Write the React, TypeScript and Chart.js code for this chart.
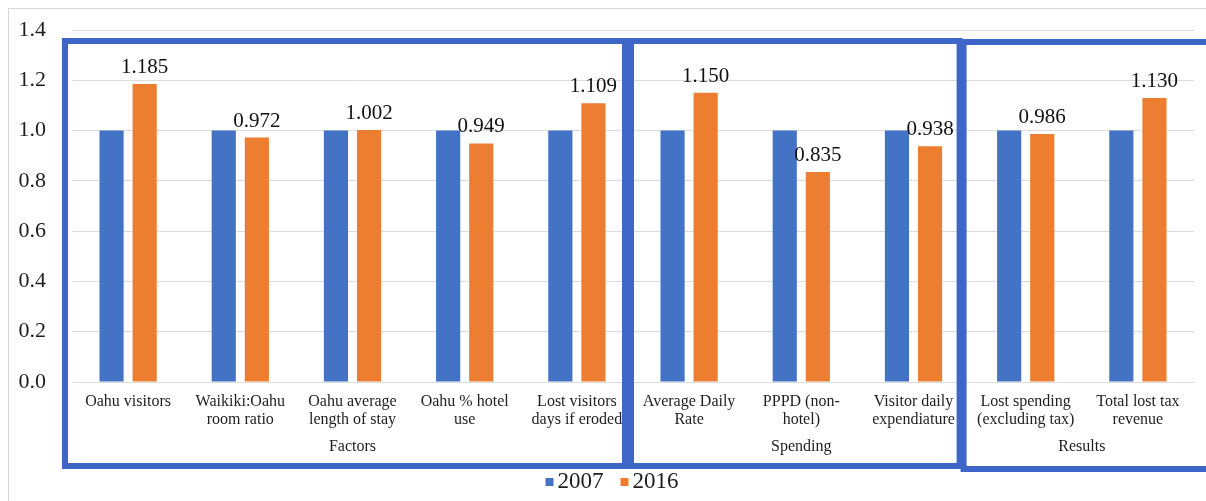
import React, { useEffect, useRef } from 'react';
import { Chart, registerables } from 'chart.js';

Chart.register(...registerables);

// Category labels (two-line where the axis wraps them)
const categories: string[][] = [
  ['Oahu visitors'],
  ['Waikiki:Oahu', 'room ratio'],
  ['Oahu average', 'length of stay'],
  ['Oahu % hotel', 'use'],
  ['Lost visitors', 'days if eroded'],
  ['Average Daily', 'Rate'],
  ['PPPD (non-', 'hotel)'],
  ['Visitor daily', 'expendiature'],
  ['Lost spending', '(excluding tax)'],
  ['Total lost tax', 'revenue'],
];

// Outer category groups and how many categories each spans
const groupNames: string[] = ['Factors', 'Spending', 'Results'];
const groupSizes: number[] = [5, 3, 2];

const seriesLabels: string[] = ['2007', '2016'];
const values2007: number[] = [1, 1, 1, 1, 1, 1, 1, 1, 1, 1];
const values2016: number[] = [1.185, 0.972, 1.002, 0.949, 1.109, 1.15, 0.835, 0.938, 0.986, 1.13];

const yMin = 0;
const yMax = 1.4;
const yStep = 0.2;

const BLUE = '#4472C4';
const ORANGE = '#ED7D31';
const BOX = '#3D66C8';
const GRID = '#dcdcdc';
const TEXT = '#1e1e1e';
const SERIF = "'Liberation Serif', 'Times New Roman', serif";

const framePlugin = {
  id: 'frame',
  beforeDraw(chart: Chart) {
    const { ctx, width, height } = chart;
    ctx.save();
    ctx.fillStyle = '#ffffff';
    ctx.fillRect(0, 0, width, height);
    ctx.strokeStyle = '#d6d6d6';
    ctx.lineWidth = 1;
    ctx.strokeRect(8.5, 8.5, width + 20, height + 20);
    ctx.restore();
  },
};

const valueLabelPlugin = {
  id: 'valueLabels',
  afterDatasetsDraw(chart: Chart) {
    const { ctx } = chart;
    const meta = chart.getDatasetMeta(1);
    const data = chart.data.datasets[1].data as number[];
    ctx.save();
    ctx.font = `21px ${SERIF}`;
    ctx.fillStyle = '#111111';
    ctx.textAlign = 'center';
    ctx.textBaseline = 'alphabetic';
    meta.data.forEach((bar: any, i: number) => {
      ctx.fillText(data[i].toFixed(3), bar.x, bar.y - 11);
    });
    ctx.restore();
  },
};

const overlayPlugin = {
  id: 'groupsAndLegend',
  afterDraw(chart: Chart) {
    const { ctx, chartArea } = chart;
    const x = chart.scales.x;
    const step = (chartArea.right - chartArea.left) / categories.length;
    const edge = (i: number) => chartArea.left + i * step;

    ctx.save();
    // outer group labels
    ctx.font = `16px ${SERIF}`;
    ctx.fillStyle = TEXT;
    ctx.textAlign = 'center';
    ctx.textBaseline = 'middle';
    let start = 0;
    const bounds: number[] = [0];
    groupNames.forEach((name, g) => {
      const end = start + groupSizes[g] - 1;
      const cx = (x.getPixelForValue(start) + x.getPixelForValue(end)) / 2;
      ctx.fillText(name, cx, 447);
      start = end + 1;
      bounds.push(start);
    });

    // framed group boxes
    ctx.strokeStyle = BOX;
    ctx.lineWidth = 6;
    const top = chartArea.top + 11;
    const b1 = edge(bounds[1]);
    const b2 = edge(bounds[2]);
    ctx.strokeRect(chartArea.left - 7, top, b1 - 8 - (chartArea.left - 7), 466 - top);
    ctx.strokeRect(b1 - 2, top, b2 - 10 - (b1 - 2), 466 - top);
    ctx.strokeRect(b2 - 6, top + 1, chart.width + 20 - (b2 - 6), 469 - top - 1);

    // legend
    ctx.font = `23px ${SERIF}`;
    ctx.textAlign = 'left';
    ctx.textBaseline = 'middle';
    const colors = [BLUE, ORANGE];
    const items = chart.data.datasets.map((d, i) => ({
      label: String(d.label),
      color: colors[i],
      w: 8 + 4 + ctx.measureText(String(d.label)).width,
    }));
    const gap = 17;
    const total = items.reduce((s, it) => s + it.w, 0) + gap * (items.length - 1);
    let lx = chart.width / 2 + 9 - total / 2;
    const ly = 482;
    items.forEach((it) => {
      ctx.fillStyle = it.color;
      ctx.fillRect(lx, ly - 4, 8, 8);
      ctx.fillStyle = TEXT;
      ctx.fillText(it.label, lx + 12, ly);
      lx += it.w + gap;
    });
    ctx.restore();
  },
};

export default function App() {
  const canvasRef = useRef<HTMLCanvasElement | null>(null);

  useEffect(() => {
    const canvas = canvasRef.current;
    if (!canvas) return;
    const chart = new Chart(canvas, {
      type: 'bar',
      data: {
        labels: categories,
        datasets: [
          {
            label: seriesLabels[0],
            data: values2007,
            backgroundColor: BLUE,
            categoryPercentage: 0.59,
            barPercentage: 0.73,
          },
          {
            label: seriesLabels[1],
            data: values2016,
            backgroundColor: ORANGE,
            categoryPercentage: 0.59,
            barPercentage: 0.73,
          },
        ],
      },
      options: {
        responsive: false,
        animation: false,
        devicePixelRatio: 1,
        layout: { padding: { top: 30, right: 12, left: 0, bottom: 0 } },
        plugins: {
          legend: { display: false },
          tooltip: { enabled: false },
        },
        scales: {
          x: {
            grid: { display: false, drawTicks: false },
            border: { display: true, color: GRID, width: 1 },
            ticks: {
              padding: 11,
              color: TEXT,
              font: { family: SERIF, size: 16, lineHeight: 1.125 },
              maxRotation: 0,
              autoSkip: false,
            },
            afterFit(scale: any) {
              scale.height = 119;
            },
          },
          y: {
            min: yMin,
            max: yMax,
            grid: { color: GRID, drawTicks: false },
            border: { display: false },
            ticks: {
              stepSize: yStep,
              padding: 26,
              color: TEXT,
              font: { family: SERIF, size: 22 },
              callback: (v: any) => Number(v).toFixed(1),
            },
            afterFit(scale: any) {
              scale.width = 72;
              scale.paddingTop = 0;
              scale.paddingBottom = 0;
            },
          },
        },
      },
      plugins: [framePlugin, valueLabelPlugin, overlayPlugin],
    });
    return () => chart.destroy();
  }, []);

  return (
    <div style={{ position: 'fixed', left: 0, top: 0, width: 1206, height: 501, background: '#fff' }}>
      <canvas ref={canvasRef} width={1206} height={501} style={{ display: 'block', width: 1206, height: 501 }} />
    </div>
  );
}
